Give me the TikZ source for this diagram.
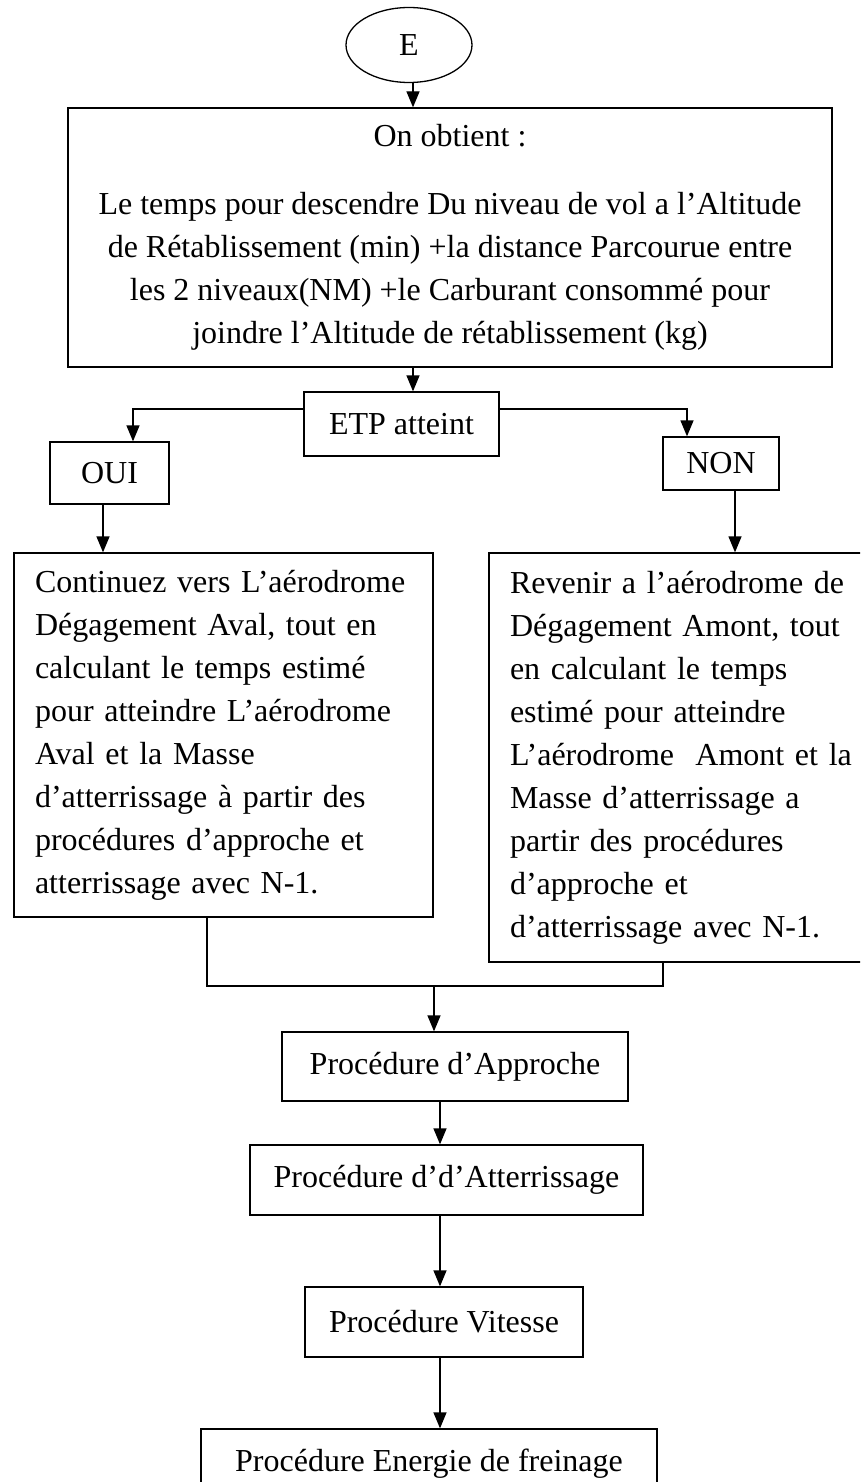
\documentclass[tikz,border=0pt]{standalone}
\usepackage{fontspec}
\setmainfont{Liberation Serif}
\usepackage{xcolor}
\usepackage{tikz}
\usetikzlibrary{arrows.meta, positioning, shapes.geometric}

\begin{document}
\begin{tikzpicture}[x=1pt, y=-1pt, on grid, line width=1.3pt,
        font=\fontsize{32}{43}\selectfont,
        box/.style={draw, rectangle, inner sep=0pt},
        txtbox/.style={draw, rectangle, inner xsep=21pt, inner ysep=0pt, align=left},
        arr/.style={-{Triangle[length=16pt, width=13pt]}}]

        \clip (0,0) rectangle (860,1482);
        \useasboundingbox (0,0) rectangle (860,1482);

        \node[draw, ellipse, minimum width=126pt, minimum height=75pt, inner sep=0pt] (E) at (409,45) {E};
        \node[box, minimum width=764pt, minimum height=259pt, align=center] (res) at (450,237.5)
            {On obtient :\\[25pt]
             Le temps pour descendre Du niveau de vol a l’Altitude\\
             de Rétablissement (min) +la distance Parcourue entre\\
             les 2 niveaux(NM) +le Carburant consommé pour\\
             joindre l’Altitude de rétablissement (kg)};
        \node[box, minimum width=195pt, minimum height=64pt] (etp) at (401.5,424) {ETP atteint};
        \node[box, minimum width=119pt, minimum height=62pt] (oui) at (109.5,473) {OUI};
        \node[box, minimum width=116pt, minimum height=53pt] (non) at (721,463.5) {NON};

        \node[txtbox, text width=377pt, minimum height=364pt] (aval) at (223.5,735)
            {Continuez vers L’aérodrome\\
             Dégagement Aval, tout en\\
             calculant le temps estimé\\
             pour atteindre L’aérodrome\\
             Aval et la Masse\\
             d’atterrissage à partir des\\
             procédures d’approche et\\
             atterrissage avec N-1.};
        \node[txtbox, text width=358pt, minimum height=409pt] (amont) at (689,757.5)
            {Revenir a l’aérodrome de\\
             Dégagement Amont, tout\\
             en calculant le temps\\
             estimé pour atteindre\\
             L’aérodrome\ \ Amont et la\\
             Masse d’atterrissage a\\
             partir des procédures\\
             d’approche et\\
             d’atterrissage avec N-1.};

        \node[box, minimum width=346pt, minimum height=69pt] (appr) at (455,1066.5) {Procédure d’Approche};
        \node[box, minimum width=393pt, minimum height=70pt] (atter) [below=113.5pt of appr, xshift=-8.5pt] {Procédure d’d’Atterrissage};
        \node[box, minimum width=278pt, minimum height=70pt] (vit) [below=142pt of atter, xshift=-2.5pt] {Procédure Vitesse};
        \node[box, minimum width=456pt, minimum height=70pt] (frein) [below=142pt of vit, xshift=-15pt] {Procédure Energie de freinage};

        \coordinate (join) at (434,986);

        \draw[arr] ([xshift=4pt]E.south) -- ([xshift=4pt]E.south |- res.north);
        \draw[arr] ([xshift=-37pt]res.south) -- ([xshift=11.5pt]etp.north);
        \draw[arr] ([yshift=15pt]etp.west) -| ([xshift=23.5pt]oui.north);
        \draw[arr] ([yshift=15pt]etp.east) -| ([xshift=-34pt]non.north);
        \draw[arr] ([xshift=-6.5pt]oui.south) -- ([xshift=-6.5pt]oui.south |- aval.north);
        \draw[arr] ([xshift=14pt]non.south) -- ([xshift=14pt]non.south |- amont.north);

        \draw ([xshift=-16.5pt]aval.south) |- (join) -| ([xshift=-26pt]amont.south);
        \draw[arr] (join) -- (join |- appr.north);
        \draw[arr] ([xshift=-15pt]appr.south) -- ([xshift=-15pt]appr.south |- atter.north);
        \draw[arr] ([xshift=-6.5pt]atter.south) -- ([xshift=-6.5pt]atter.south |- vit.north);
        \draw[arr] ([xshift=-4pt]vit.south) -- ([xshift=-4pt]vit.south |- frein.north);

\end{tikzpicture}
\end{document}
